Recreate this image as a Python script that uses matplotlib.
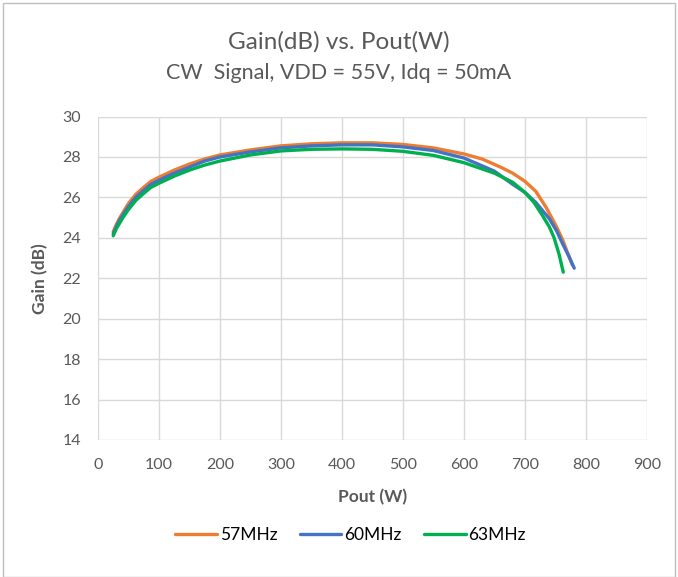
import matplotlib
matplotlib.use('Agg')
import matplotlib.pyplot as plt
from matplotlib.patches import Rectangle

# Pout (W) / Gain (dB)
pout_57 = [25, 30, 35, 42, 50, 62, 75, 87, 100, 125, 150, 175, 200, 250, 300, 350, 400, 450, 500, 550, 600, 630, 660, 680, 700, 718, 735, 751, 762, 770, 778]
gain_57 = [24.3, 24.65, 24.95, 25.3, 25.7, 26.15, 26.5, 26.8, 27.0, 27.35, 27.65, 27.9, 28.1, 28.35, 28.55, 28.65, 28.7, 28.7, 28.62, 28.45, 28.15, 27.9, 27.5, 27.2, 26.8, 26.3, 25.5, 24.6, 23.9, 23.26, 22.65]

pout_60 = [25, 30, 35, 42, 50, 62, 75, 87, 100, 125, 150, 175, 200, 250, 300, 350, 400, 450, 500, 550, 600, 650, 680, 700, 718, 740, 752, 762, 772, 781]
gain_60 = [24.2, 24.55, 24.85, 25.2, 25.55, 26.0, 26.35, 26.65, 26.85, 27.2, 27.5, 27.8, 28.0, 28.25, 28.45, 28.55, 28.6, 28.6, 28.5, 28.32, 27.95, 27.3, 26.65, 26.25, 25.75, 24.95, 24.35, 23.7, 23.1, 22.5]

pout_63 = [25, 30, 35, 42, 50, 62, 75, 87, 100, 125, 150, 175, 200, 250, 300, 350, 400, 450, 500, 550, 600, 650, 680, 700, 715, 729, 740, 748, 756, 763]
gain_63 = [24.1, 24.45, 24.7, 25.05, 25.4, 25.85, 26.2, 26.5, 26.7, 27.05, 27.35, 27.6, 27.8, 28.1, 28.3, 28.38, 28.4, 28.38, 28.28, 28.08, 27.72, 27.2, 26.75, 26.25, 25.75, 25.1, 24.55, 24.0, 23.2, 22.3]

labels = ['57MHz', '60MHz', '63MHz']
colors = ['#ED7D31', '#4472C4', '#00B050']

plt.rcParams['font.family'] = ['Lato', 'DejaVu Sans']
text_gray = '#595959'

fig = plt.figure(figsize=(6.78, 5.77), dpi=100)
ax = fig.add_axes([0.1445, 0.2375, 0.8095, 0.5605])

# chart border
fig.patches.append(Rectangle((0.004, 0.0), 0.992, 0.995, transform=fig.transFigure,
                             fill=False, edgecolor='#bfbfbf', linewidth=1))

for x, y, lab, c in zip([pout_57, pout_60, pout_63], [gain_57, gain_60, gain_63], labels, colors):
    ax.plot(x, y, color=c, linewidth=2.4, label=lab, solid_capstyle='round',
            solid_joinstyle='round')

ax.set_xlim(0, 900)
ax.set_ylim(14, 30)
ax.set_xticks(range(0, 901, 100))
ax.set_yticks(range(14, 31, 2))
ax.grid(True, color='#d9d9d9', linewidth=1)
ax.set_axisbelow(True)
for s in ax.spines.values():
    s.set_visible(False)
ax.tick_params(length=0, labelsize=11.5, colors=text_gray)
ax.tick_params(axis='x', pad=13)
ax.tick_params(axis='y', pad=12)

ax.set_xlabel('Pout (W)', fontsize=12.5, fontweight='bold', color=text_gray, labelpad=12)
ax.set_ylabel('Gain (dB)', fontsize=12.5, fontweight='bold', color=text_gray, labelpad=10)

fig.text(0.5, 0.927, 'Gain(dB) vs. Pout(W)', ha='center', va='center', fontsize=17.5, color=text_gray)
fig.text(0.5, 0.873, 'CW  Signal, VDD = 55V, Idq = 50mA', ha='center', va='center', fontsize=15.5, color=text_gray)

fig.legend(loc='center', bbox_to_anchor=(0.517, 0.073), ncol=3, frameon=False,
           fontsize=12.5, handlelength=2.4, columnspacing=1.3, handletextpad=0.15)

fig.savefig('out.png', dpi=100)
